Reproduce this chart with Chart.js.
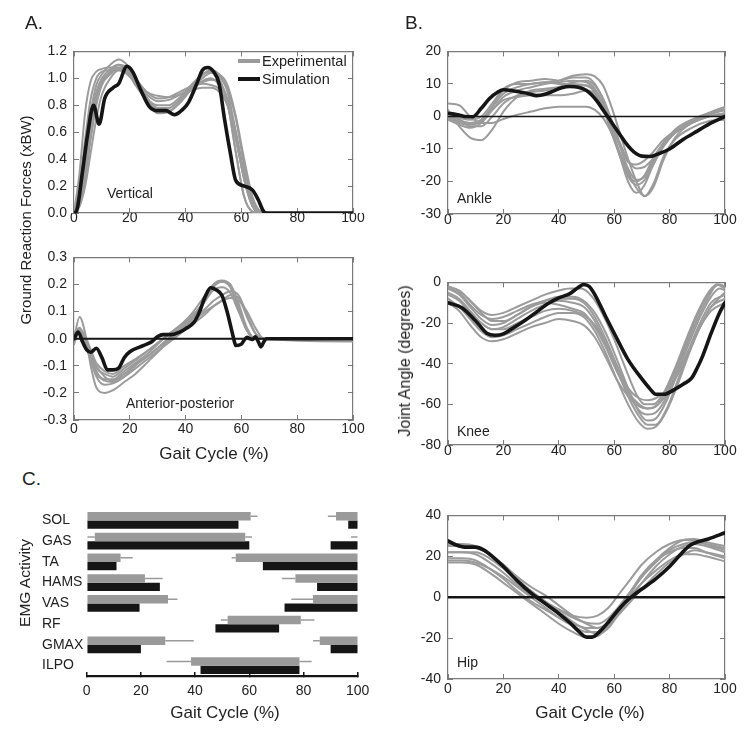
<!DOCTYPE html>
<html><head><meta charset="utf-8">
<script src="https://cdn.jsdelivr.net/npm/chart.js@4.4.1/dist/chart.umd.min.js"></script>
<style>
html,body{margin:0;padding:0;background:#fff;}
body{width:752px;height:733px;position:relative;overflow:hidden;font-family:'Liberation Sans',Arial,sans-serif;color:#222;}
canvas{position:absolute;}
.t{position:absolute;white-space:nowrap;line-height:1;z-index:5;}
.l{transform:translate(0,-50%);}
.c{transform:translate(-50%,-50%);}
.r{transform:translate(-50%,-50%) rotate(-90deg);}
.sw{position:absolute;z-index:5;}
</style></head><body>
<canvas id="cA1"></canvas><canvas id="cA2"></canvas>
<canvas id="cB1"></canvas><canvas id="cB2"></canvas><canvas id="cB3"></canvas>
<canvas id="cC"></canvas>

<div class="t l" style="left:25px;top:22px;font-size:19px;">A.</div>
<div class="t l" style="left:405px;top:22px;font-size:19px;">B.</div>
<div class="t l" style="left:22px;top:478px;font-size:19px;">C.</div>

<div class="sw" style="left:238px;top:59px;width:22px;height:3.5px;background:#9b9b9b;"></div>
<div class="t l" style="left:262px;top:61px;font-size:14.5px;">Experimental</div>
<div class="sw" style="left:238px;top:77px;width:22px;height:4px;background:#151515;"></div>
<div class="t l" style="left:262px;top:79px;font-size:14.5px;">Simulation</div>

<div class="t l" style="left:107px;top:193px;font-size:14px;">Vertical</div>
<div class="t l" style="left:126px;top:403px;font-size:14px;">Anterior-posterior</div>
<div class="t l" style="left:457px;top:198px;font-size:14px;">Ankle</div>
<div class="t l" style="left:457px;top:431px;font-size:14px;">Knee</div>
<div class="t l" style="left:457px;top:662px;font-size:14px;">Hip</div>

<div class="t r" style="left:25px;top:220px;font-size:15px;">Ground Reaction Forces (xBW)</div>
<div class="t r" style="left:405px;top:361px;font-size:16px;">Joint Angle (degrees)</div>
<div class="t r" style="left:25px;top:583px;font-size:15.5px;">EMG Activity</div>
<div class="t c" style="left:214px;top:453px;font-size:17px;">Gait Cycle (%)</div>
<div class="t c" style="left:225px;top:712px;font-size:17px;">Gait Cycle (%)</div>
<div class="t c" style="left:590px;top:712px;font-size:17px;">Gait Cycle (%)</div>

<script>
// ---------------- DATA ----------------
const gaitTicks = [0, 20, 40, 60, 80, 100];
const zeroLine = [[0, 0], [100, 0]];

// A. Vertical GRF (xBW)
const vertExp1 = [[0,0],[2,0.3],[4,0.75],[6,0.98],[8,1.05],[10,1.07],[13,1.08],[16,1.08],[19,1.03],[22,0.97],[26,0.86],[30,0.78],[34,0.78],[38,0.84],[42,0.92],[46,0.98],[49,1.0],[52,0.95],[55,0.82],[58,0.45],[61,0.12],[64,0.01],[67,0],[70,0],[100,0]];
const vertExp2 = [[0,0],[2,0.15],[4,0.45],[6,0.75],[8,0.95],[10,1.03],[13,1.1],[16,1.14],[19,1.1],[22,1.0],[26,0.86],[30,0.76],[34,0.76],[38,0.82],[42,0.92],[46,1.02],[49,1.06],[52,1.0],[55,0.82],[58,0.45],[61,0.12],[64,0.01],[67,0],[70,0],[100,0]];
const vertExp3 = [[0,0],[2,0.1],[4,0.3],[6,0.6],[8,0.85],[10,0.97],[13,1.05],[16,1.1],[19,1.08],[22,1.0],[26,0.9],[30,0.85],[34,0.86],[38,0.9],[42,0.94],[46,0.96],[49,0.95],[52,0.92],[55,0.8],[58,0.55],[61,0.25],[64,0.05],[67,0],[70,0],[100,0]];
const vertExp4 = [[0,0],[2,0.08],[4,0.25],[6,0.55],[8,0.8],[10,0.95],[13,1.03],[16,1.07],[19,1.06],[22,0.98],[26,0.88],[30,0.83],[34,0.84],[38,0.88],[42,0.93],[46,0.97],[49,0.99],[52,0.97],[55,0.85],[58,0.6],[61,0.3],[64,0.08],[67,0],[70,0],[100,0]];
const vertExp5 = [[0,0],[2,0.12],[4,0.4],[6,0.7],[8,0.9],[10,1.0],[13,1.07],[16,1.1],[19,1.05],[22,0.95],[26,0.84],[30,0.78],[34,0.78],[38,0.84],[42,0.94],[46,1.03],[49,1.05],[52,1.02],[55,0.9],[58,0.6],[61,0.25],[64,0.05],[67,0],[70,0],[100,0]];
const vertExp6 = [[0,0],[2,0.05],[4,0.2],[6,0.45],[8,0.7],[10,0.88],[13,1.0],[16,1.06],[19,1.05],[22,0.97],[26,0.83],[30,0.74],[34,0.75],[38,0.82],[42,0.92],[46,1.0],[49,1.04],[52,1.03],[55,0.95],[58,0.72],[61,0.4],[64,0.12],[67,0.01],[70,0],[100,0]];
const vertExp7 = [[0,0],[2,0.1],[4,0.35],[6,0.65],[8,0.88],[10,0.98],[13,1.04],[16,1.08],[19,1.07],[22,1.0],[26,0.9],[30,0.87],[34,0.86],[38,0.88],[42,0.91],[46,0.93],[49,0.93],[52,0.9],[55,0.8],[58,0.55],[61,0.25],[64,0.05],[67,0],[70,0],[100,0]];
const vertExp8 = [[0,0],[2,0.2],[4,0.55],[6,0.85],[8,1.0],[10,1.05],[13,1.06],[16,1.06],[19,1.04],[22,0.97],[26,0.85],[30,0.8],[34,0.8],[38,0.86],[42,0.95],[46,1.03],[49,1.06],[52,1.03],[55,0.92],[58,0.7],[61,0.35],[64,0.1],[67,0.01],[70,0],[100,0]];
const vertSim = [[0,0],[1,0.02],[3,0.3],[5,0.6],[7,0.8],[9,0.66],[11,0.85],[14,0.93],[16,0.96],[19,1.09],[21,1.05],[24,0.91],[27,0.79],[30,0.76],[33,0.76],[36,0.73],[39,0.77],[41,0.82],[44,0.96],[46,1.06],[48,1.08],[50,1.05],[52,0.96],[54,0.69],[56,0.45],[58,0.24],[61,0.2],[64,0.17],[66,0.1],[68,0.01],[69,0],[100,0]];

// A. Anterior-posterior GRF (xBW)
const apExp1 = [[0,0],[2,0.08],[4,0.02],[6,-0.1],[8,-0.18],[11,-0.2],[14,-0.19],[18,-0.16],[22,-0.13],[27,-0.08],[32,-0.03],[37,0.02],[42,0.07],[47,0.14],[50,0.2],[53,0.215],[56,0.2],[59,0.12],[62,0.03],[65,0],[68,0],[100,0]];
const apExp2 = [[0,0.02],[2,0.04],[4,0],[6,-0.06],[8,-0.12],[11,-0.15],[14,-0.15],[18,-0.12],[22,-0.09],[27,-0.05],[32,0],[37,0.04],[42,0.08],[47,0.14],[50,0.19],[53,0.21],[56,0.2],[59,0.13],[62,0.04],[65,0],[68,0],[100,0]];
const apExp3 = [[0,-0.02],[2,0.03],[4,-0.01],[6,-0.08],[8,-0.14],[11,-0.17],[14,-0.165],[18,-0.14],[22,-0.1],[27,-0.06],[32,-0.02],[37,0.02],[42,0.06],[47,0.1],[50,0.12],[53,0.14],[56,0.16],[59,0.15],[62,0.08],[65,0.02],[68,0],[100,0]];
const apExp4 = [[0,0],[2,0.02],[4,-0.02],[6,-0.07],[8,-0.11],[11,-0.13],[14,-0.14],[18,-0.11],[22,-0.08],[27,-0.04],[32,0],[37,0.04],[42,0.08],[47,0.14],[50,0.18],[53,0.19],[56,0.17],[59,0.1],[62,0.03],[65,0],[68,0],[100,0]];
const apExp5 = [[0,-0.01],[2,0.03],[4,0],[6,-0.05],[8,-0.1],[11,-0.14],[14,-0.155],[18,-0.13],[22,-0.095],[27,-0.06],[32,-0.015],[37,0.03],[42,0.07],[47,0.11],[50,0.14],[53,0.16],[56,0.175],[59,0.16],[62,0.09],[65,0.02],[68,0],[100,0]];
const apExp6 = [[0,0.01],[2,0.035],[4,0.01],[6,-0.04],[8,-0.09],[11,-0.12],[14,-0.13],[18,-0.1],[22,-0.075],[27,-0.04],[32,0],[37,0.04],[42,0.09],[47,0.16],[50,0.2],[53,0.21],[56,0.19],[59,0.11],[62,0.03],[65,0],[68,0],[100,0]];
const apExp7 = [[0,0],[2,0.02],[4,-0.02],[6,-0.08],[8,-0.13],[11,-0.155],[14,-0.16],[18,-0.14],[22,-0.11],[27,-0.07],[32,-0.03],[37,0.01],[42,0.05],[47,0.09],[50,0.12],[53,0.14],[56,0.15],[59,0.14],[62,0.1],[65,0.04],[68,0],[100,-0.01]];
const apSim = [[0,0],[1.5,0.025],[3,-0.01],[4.5,-0.04],[6,-0.05],[8,-0.035],[10,-0.07],[12,-0.115],[14,-0.115],[16,-0.108],[18,-0.07],[20,-0.048],[25,-0.025],[28,-0.01],[30,0.008],[32,0.015],[35,0.015],[38,0.025],[40,0.037],[43,0.06],[45,0.1],[47,0.155],[49,0.188],[51,0.18],[53,0.16],[55,0.095],[57,0.01],[58,-0.025],[60,-0.02],[61,-0.005],[62,0.005],[63,0],[64,-0.003],[65,0.007],[66,-0.01],[67,-0.03],[68,-0.012],[69,0],[100,0]];

// B. Ankle angle (degrees)
const ankleExp1 = [[0,2],[4,-3],[8,-6.5],[12,-7.3],[16,-4],[20,1.5],[25,6],[30,8],[35,8.5],[40,9],[45,9.5],[50,9.5],[53,8],[56,3],[59,-4],[62,-12],[65,-18],[68,-20],[71,-18],[74,-13],[78,-8],[82,-5],[88,-2],[94,0],[100,1]];
const ankleExp2 = [[0,4],[4,3.5],[8,0],[12,-2],[16,-2],[20,-0.8],[25,0.5],[30,1.5],[35,2.5],[40,3],[45,3],[50,3],[53,2],[56,-0.5],[59,-5],[62,-11],[65,-17],[68,-22],[71,-24.5],[74,-21],[78,-12],[82,-7],[88,-3.5],[94,-1.5],[100,-1]];
const ankleExp3 = [[0,0],[4,-1.5],[8,-2],[12,-1],[16,3],[20,8],[25,10.5],[30,11],[35,11.5],[40,11],[45,12],[50,12],[53,10],[56,5],[59,-3],[62,-12],[65,-20],[68,-23.5],[71,-21],[74,-15],[78,-9],[82,-5],[88,-1.5],[94,0.5],[100,2.5]];
const ankleExp4 = [[0,-1],[4,-2.5],[8,-3.5],[12,-2],[16,2],[20,6],[25,8],[30,9],[35,10],[40,10.5],[45,11],[50,10.5],[53,8.5],[56,4],[59,-2],[62,-9],[65,-16],[68,-19.5],[71,-18.5],[74,-14],[78,-8],[82,-5],[88,-2],[94,0.5],[100,2]];
const ankleExp5 = [[0,1],[4,-1],[8,-3],[12,-3],[16,0],[20,4],[25,6.5],[30,7.5],[35,8],[40,9],[45,10.5],[50,11],[53,9.5],[56,5.5],[59,-1],[62,-8],[65,-13.5],[68,-16],[71,-15.5],[74,-13],[78,-8.5],[82,-5],[88,-2],[94,0],[100,1]];
const ankleExp6 = [[0,-0.5],[4,-2],[8,-2.5],[12,-1.5],[16,2],[20,5],[25,6],[30,6.5],[35,6.5],[40,6.5],[45,7],[50,8],[53,7],[56,3],[59,-3],[62,-9],[65,-14],[68,-14.8],[71,-13.5],[74,-11],[78,-7],[82,-4.5],[88,-1.5],[94,1],[100,3]];
const ankleExp7 = [[0,0],[4,-0.5],[8,-1],[12,0],[16,4],[20,8.5],[25,10],[30,10],[35,10.5],[40,10],[45,10],[50,9.5],[53,7.5],[56,2.5],[59,-5],[62,-12],[65,-18.5],[68,-21],[71,-19.5],[74,-15],[78,-8],[82,-4],[88,-1],[94,1],[100,2]];
const ankleExp8 = [[0,1],[4,-1],[8,-2],[12,-1],[16,3],[20,7],[25,9],[30,10],[35,10.5],[40,11],[45,12.5],[50,13],[53,12.3],[56,9.5],[59,3],[62,-5],[65,-13],[68,-20],[71,-24.5],[74,-22],[78,-13],[82,-6.5],[88,-2],[94,0],[100,0.5]];
const ankleSim = [[0,1],[3,0.6],[6,0],[9,-0.1],[12,2.5],[15,5.5],[18,7.5],[20,8.2],[23,8.0],[26,7.5],[29,7.0],[32,6.4],[35,6.8],[38,7.8],[41,8.8],[44,9.2],[47,9.0],[50,8.0],[52,6.5],[54,4.5],[56,2],[58,-0.5],[60,-3],[62,-5.5],[64,-8],[66,-10],[68,-11.5],[70,-12.2],[73,-12.3],[76,-11.5],[80,-10],[85,-7],[90,-4.5],[95,-2],[100,0]];

// B. Knee angle (degrees)
const kneeExp1 = [[0,-2],[4,-4],[8,-9],[12,-14],[16,-16],[20,-15],[25,-12],[30,-9],[35,-6],[40,-4],[44,-3],[48,-3],[52,-7],[56,-16],[60,-28],[64,-42],[68,-55],[71,-60],[74,-60],[78,-54],[82,-42],[86,-28],[90,-15],[94,-5],[97,-1],[100,-2]];
const kneeExp2 = [[0,-3],[4,-5],[8,-11],[12,-16],[16,-18],[20,-17],[25,-14],[30,-11],[35,-9],[40,-7],[45,-7],[49,-9],[53,-15],[57,-25],[61,-38],[65,-52],[69,-64],[72,-68],[75,-67],[79,-58],[83,-44],[87,-30],[91,-17],[95,-7],[98,-3],[100,-4]];
const kneeExp3 = [[0,-5],[4,-8],[8,-14],[12,-20],[16,-23],[20,-22],[25,-18],[30,-14],[35,-11],[40,-9],[45,-10],[49,-12],[53,-19],[57,-30],[61,-43],[65,-56],[69,-66],[72,-70],[75,-70],[79,-62],[83,-48],[87,-33],[91,-20],[95,-10],[100,-6]];
const kneeExp4 = [[0,-8],[4,-12],[8,-18],[12,-24],[16,-27],[20,-26],[25,-23],[30,-20],[35,-17],[40,-15],[45,-15],[49,-17],[53,-24],[57,-35],[61,-48],[65,-60],[69,-69],[72,-72],[75,-71],[79,-63],[83,-50],[87,-35],[91,-22],[95,-12],[100,-8]];
const kneeExp5 = [[0,-10],[4,-14],[8,-21],[12,-27],[16,-29],[20,-28],[25,-25],[30,-22],[35,-20],[40,-18],[45,-19],[49,-21],[53,-27],[57,-37],[61,-48],[65,-56],[69,-61],[72,-62],[75,-61],[79,-55],[83,-45],[87,-33],[91,-22],[95,-14],[100,-10]];
const kneeExp6 = [[0,-3],[4,-6],[8,-12],[12,-18],[16,-21],[20,-20],[25,-16],[30,-12],[35,-10],[40,-11],[45,-13],[49,-15],[53,-22],[57,-32],[61,-44],[65,-54],[69,-60],[72,-62],[75,-61],[79,-53],[83,-40],[87,-26],[91,-13],[95,-4],[98,-1],[100,-2]];
const kneeExp7 = [[0,-6],[4,-9],[8,-15],[12,-20],[16,-23],[20,-23],[25,-20],[30,-17],[35,-14],[40,-13],[45,-14],[49,-16],[53,-21],[57,-30],[61,-41],[65,-52],[69,-57],[72,-58],[75,-57],[79,-53],[83,-45],[87,-34],[91,-22],[95,-12],[100,-5]];
const kneeExp8 = [[0,-2],[4,-4],[8,-9],[12,-15],[16,-19],[20,-19],[25,-16],[30,-12],[35,-9],[40,-8],[45,-8],[49,-10],[53,-17],[57,-28],[61,-41],[65,-54],[69,-63],[72,-65],[75,-64],[79,-56],[83,-42],[87,-28],[91,-15],[95,-5],[97,-1],[100,-3]];
const kneeSim = [[0,-10],[5,-12.5],[10,-19],[14,-25],[17,-26],[20,-25.3],[24,-22],[28,-18.5],[32,-14.5],[36,-10.5],[40,-7.6],[44,-5.5],[47,-2.5],[49,-1],[51,-2],[53,-6],[57,-17],[60,-25],[65,-38],[70,-47.5],[73,-52.5],[75,-55],[78,-55],[82,-52.5],[85,-50],[88,-47],[90,-42],[92,-36],[95,-25],[98,-15],[100,-10]];

// B. Hip angle (degrees)
const hipExp1 = [[0,26],[5,26],[10,25],[15,21],[20,15],[25,9],[30,3],[35,-2],[40,-7],[45,-12],[50,-16],[54,-18],[58,-15],[62,-7],[66,2],[70,10],[75,18],[80,24],[85,28],[89,28.5],[93,27],[100,25]];
const hipExp2 = [[0,22],[5,22],[10,21],[15,17],[20,12],[25,6],[30,1],[35,-3],[40,-6],[45,-9],[50,-10],[54,-9],[58,-5],[62,2],[66,9],[70,16],[75,22],[80,26],[85,28],[89,28],[93,26],[100,23]];
const hipExp3 = [[0,19],[5,19],[10,18],[15,14],[20,9],[25,3],[30,-2],[35,-6],[40,-10],[45,-13],[50,-15],[54,-15],[58,-12],[62,-5],[66,3],[70,11],[75,18],[80,22],[85,24],[89,24],[93,22],[100,19]];
const hipExp4 = [[0,17],[5,17],[10,16],[15,12],[20,7],[25,2],[30,-3],[35,-8],[40,-13],[45,-17],[50,-19.5],[54,-19],[58,-14],[62,-6],[66,1],[70,7],[75,13],[80,18],[85,21],[89,21],[93,20],[100,17.5]];
const hipExp5 = [[0,25],[5,25],[10,24],[15,21],[20,16],[25,10],[30,5],[35,1],[40,-4],[45,-9],[50,-13],[54,-15],[58,-13],[62,-7],[66,0],[70,7],[75,15],[80,21],[85,25],[89,26],[93,25],[100,22]];
const hipExp6 = [[0,18],[5,18],[10,17],[15,14],[20,10],[25,5],[30,0],[35,-5],[40,-10],[45,-14],[50,-17],[54,-17],[58,-14],[62,-8],[66,-2],[70,4],[75,11],[80,17],[85,21],[89,23],[93,22],[100,20]];
const hipExp7 = [[0,22],[5,22],[10,22],[15,19],[20,14],[25,8],[30,3],[35,-2],[40,-6],[45,-10],[50,-12.5],[54,-13],[58,-10],[62,-4],[66,3],[70,10],[75,17],[80,23],[85,26],[89,27],[93,26],[100,24]];
const hipSim = [[0,27.5],[3,25.5],[6,24.5],[10,24.5],[13,23],[16,20],[20,15],[25,8],[30,2],[33,-1],[36,-4],[40,-8],[44,-12.5],[47,-16.5],[50,-19.5],[52,-19.5],[55,-16.5],[58,-12],[61,-7],[64,-2.5],[67,1],[70,4],[75,9],[80,15],[84,21],[87,25],[90,27],[94,28.5],[100,31.5]];

// C. EMG on/off timing (% gait cycle)
const muscles = ['SOL', 'GAS', 'TA', 'HAMS', 'VAS', 'RF', 'GMAX', 'ILPO'];
const expOn1 = [[0,60.5],[3,58.5],[0,12.5],[0,21.5],[0,30],[52,79],[0,29],[38.5,78.5]];
const expOn2 = [[92,100],null,[55,100],[77,100],[83.5,100],null,[86,100],null];
const expSd1 = [[60.5,63],[0,3],[12.5,17],[21.5,28],[30,33.5],[49.5,52],[29,39.5],[29.5,38.5]];
const expSd2 = [[89,92],[58.5,61],[53.5,55],[72,77],[75.5,83.5],[79,84],[83.5,86],[78.5,83]];
const expSd3 = [null,[97.5,100],null,null,null,null,null,null];
const simOn1 = [[0,56],[0,60],[0,11],[0,27],[0,19.5],[47.5,71],[0,20],[42,78.5]];
const simOn2 = [[96.5,100],[90,100],[65,100],[85,100],[73,100],null,[90,100],null];

// ---------------- DRAWING ----------------
const FONT = "'Liberation Sans', Arial, Helvetica, sans-serif";
const GRAY = '#9b9b9b', BLACK = '#151515', BOX = '#7a7a7a', TXT = '#222';
Chart.defaults.font.family = FONT;

const pts = a => a.map(p => ({x: p[0], y: p[1]}));
const fmt1 = v => (Math.abs(v) < 1e-9 ? '0.0' : v.toFixed(1));
const fmt0 = v => String(Math.round(v));

function linePanel(id, area, y, exp, sim, zeroW, xPad) {
  const ML = 60, MT = 15, MR = 25, MB = 30;
  const cv = document.getElementById(id);
  const W = area.R - area.L + ML + MR, H = area.B - area.T + MT + MB;
  cv.width = W; cv.height = H;
  cv.style.width = W + 'px'; cv.style.height = H + 'px';
  cv.style.left = (area.L - ML) + 'px'; cv.style.top = (area.T - MT) + 'px';
  const grid = {drawOnChartArea: false, drawTicks: true, tickLength: -5, color: BOX, lineWidth: 1};
  const border = {display: true, color: BOX, width: 1.2};
  const tickFont = {size: 14, family: FONT};
  const datasets = [{data: pts(sim), borderColor: BLACK, borderWidth: 3.6, order: 0}];
  if (zeroW) datasets.push({data: pts(zeroLine), borderColor: BLACK, borderWidth: zeroW, order: 1, cubicInterpolationMode: 'default', tension: 0});
  exp.forEach(e => datasets.push({data: pts(e), borderColor: GRAY, borderWidth: 2, order: 2}));
  new Chart(cv, {
    type: 'line',
    data: {datasets},
    options: {
      responsive: false, animation: false, events: [],
      layout: {padding: 0},
      plugins: {legend: {display: false}, tooltip: {enabled: false}},
      elements: {point: {radius: 0}, line: {cubicInterpolationMode: 'monotone', borderCapStyle: 'round', borderJoinStyle: 'round'}},
      scales: {
        x: {type: 'linear', axis: 'x', position: 'bottom', min: 0, max: 100, grid, border,
            ticks: {stepSize: 20, font: tickFont, color: TXT, padding: xPad, maxRotation: 0, autoSkip: false, callback: fmt0},
            afterBuildTicks: s => { s.ticks = gaitTicks.map(v => ({value: v})); },
            afterFit: s => { s.height = MB; }},
        x2: {type: 'linear', axis: 'x', position: 'top', min: 0, max: 100, grid, border,
            ticks: {stepSize: 20, callback: () => ''},
            afterBuildTicks: s => { s.ticks = gaitTicks.map(v => ({value: v})); },
            afterFit: s => { s.height = MT; }},
        y: {type: 'linear', axis: 'y', position: 'left', min: y.min, max: y.max, grid, border,
            ticks: {stepSize: y.step, font: tickFont, color: TXT, padding: 12, autoSkip: false, callback: y.fmt},
            afterFit: s => { s.width = ML; }},
        y2: {type: 'linear', axis: 'y', position: 'right', min: y.min, max: y.max, grid, border,
            ticks: {stepSize: y.step, callback: () => ''},
            afterFit: s => { s.width = MR; }}
      }
    }
  });
}

linePanel('cA1', {L: 74, T: 46, R: 353, B: 213}, {min: 0, max: 1.2, step: 0.2, fmt: fmt1},
  [vertExp1, vertExp2, vertExp3, vertExp4, vertExp5, vertExp6, vertExp7, vertExp8], vertSim, 0, 2);
linePanel('cA2', {L: 74, T: 252, R: 353, B: 420}, {min: -0.3, max: 0.3, step: 0.1, fmt: fmt1},
  [apExp1, apExp2, apExp3, apExp4, apExp5, apExp6, apExp7], apSim, 2, 6);
linePanel('cB1', {L: 448, T: 46, R: 725, B: 214}, {min: -30, max: 20, step: 10, fmt: fmt0},
  [ankleExp1, ankleExp2, ankleExp3, ankleExp4, ankleExp5, ankleExp6, ankleExp7, ankleExp8], ankleSim, 1.6, 2.6);
linePanel('cB2', {L: 448, T: 277, R: 725, B: 445}, {min: -80, max: 0, step: 20, fmt: fmt0},
  [kneeExp1, kneeExp2, kneeExp3, kneeExp4, kneeExp5, kneeExp6, kneeExp7, kneeExp8], kneeSim, 0, 3);
linePanel('cB3', {L: 448, T: 510, R: 725, B: 679}, {min: -40, max: 40, step: 20, fmt: fmt0},
  [hipExp1, hipExp2, hipExp3, hipExp4, hipExp5, hipExp6, hipExp7], hipSim, 2.6, 6.6);

// Panel C
(function () {
  const cv = document.getElementById('cC');
  const left = 42, top = 500, W = 338, H = 206;
  cv.width = W; cv.height = H; cv.style.width = W + 'px'; cv.style.height = H + 'px';
  cv.style.left = left + 'px'; cv.style.top = top + 'px';
  const GB = '#9a9a9a';
  new Chart(cv, {
    type: 'bar',
    data: {labels: muscles, datasets: [
      {data: expOn1, backgroundColor: GB, stack: 'exp'},
      {data: expOn2, backgroundColor: GB, stack: 'exp'},
      {data: expSd1, backgroundColor: GB, stack: 'exp', barPercentage: 0.2},
      {data: expSd2, backgroundColor: GB, stack: 'exp', barPercentage: 0.2},
      {data: expSd3, backgroundColor: GB, stack: 'exp', barPercentage: 0.2},
      {data: simOn1, backgroundColor: BLACK, stack: 'sim'},
      {data: simOn2, backgroundColor: BLACK, stack: 'sim'}
    ]},
    options: {
      indexAxis: 'y', responsive: false, animation: false, events: [],
      layout: {padding: {top: 10, right: 18, left: 0, bottom: 0}},
      plugins: {legend: {display: false}, tooltip: {enabled: false}},
      datasets: {bar: {categoryPercentage: 0.8, barPercentage: 1, borderWidth: 0, inflateAmount: 0}},
      scales: {
        x: {type: 'linear', min: 0, max: 100, stacked: false,
            grid: {drawOnChartArea: false, drawTicks: true, tickLength: -4, color: BLACK, lineWidth: 1.5},
            border: {display: true, color: BLACK, width: 2.2},
            ticks: {stepSize: 20, font: {size: 14, family: FONT}, color: TXT, padding: 10.6, maxRotation: 0, callback: fmt0},
            afterBuildTicks: s => { s.ticks = gaitTicks.map(v => ({value: v})); },
            afterFit: s => { s.height = 30; }},
        y: {type: 'category', grid: {display: false}, border: {display: false},
            ticks: {crossAlign: 'far', font: {size: 14, family: FONT}, color: TXT, padding: 0},
            afterFit: s => { s.width = 44.7; }}
      }
    }
  });
})();
</script>
</body></html>
